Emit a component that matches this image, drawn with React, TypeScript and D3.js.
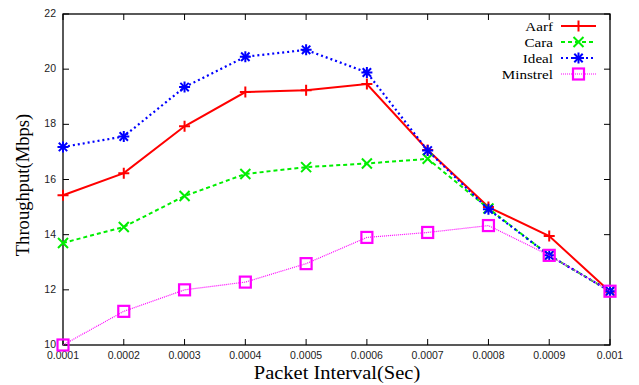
import React, { useRef, useEffect } from 'react';
import * as d3 from 'd3';

const intervals = [0.0001, 0.0002, 0.0003, 0.0004, 0.0005, 0.0006, 0.0007, 0.0008, 0.0009, 0.001];
const xTickLabels = ['0.0001', '0.0002', '0.0003', '0.0004', '0.0005', '0.0006', '0.0007', '0.0008', '0.0009', '0.001'];
const yTicks = [10, 12, 14, 16, 18, 20, 22];

const aarf = [15.43, 16.23, 17.93, 19.17, 19.24, 19.46, 17.07, 15.0, 13.95, 11.93];
const cara = [13.7, 14.28, 15.4, 16.2, 16.45, 16.58, 16.75, 14.95, 13.25, 11.95];
const ideal = [17.18, 17.56, 19.35, 20.45, 20.7, 19.88, 17.05, 14.92, 13.25, 11.95];
const minstrel = [10.0, 11.22, 12.0, 12.28, 12.95, 13.9, 14.08, 14.33, 13.25, 11.95];

const series = [
  { name: 'Aarf', values: aarf, color: '#ff0000', dash: null, width: 2, marker: 'plus' },
  { name: 'Cara', values: cara, color: '#00ee00', dash: '4,3', width: 2, marker: 'cross' },
  { name: 'Ideal', values: ideal, color: '#0000ff', dash: '2,3', width: 2.2, marker: 'star' },
  { name: 'Minstrel', values: minstrel, color: '#ff00ff', dash: '1,1', width: 1.2, marker: 'square' },
];

const serif = 'Liberation Serif, Times New Roman, serif';
const sans = 'Liberation Sans, Arial, sans-serif';

const App = () => {
  const ref = useRef<SVGSVGElement>(null);

  useEffect(() => {
    const svg = d3.select(ref.current);
    svg.selectAll('*').remove();

    const left = 63, right = 610, top = 14, bottom = 345;
    const x = d3.scalePoint<number>().domain(intervals).range([left, right]);
    const y = d3.scaleLinear().domain([10, 22]).range([bottom, top]);

    const drawMarker = (g: any, kind: string, cx: number, cy: number, color: string) => {
      const s = 5.5;
      if (kind === 'plus' || kind === 'star') {
        g.append('path').attr('d', `M${cx - s},${cy}H${cx + s}M${cx},${cy - s}V${cy + s}`)
          .attr('stroke', color).attr('stroke-width', 2).attr('fill', 'none');
      }
      if (kind === 'cross' || kind === 'star') {
        const t = kind === 'star' ? 4.2 : 5;
        g.append('path').attr('d', `M${cx - t},${cy - t}L${cx + t},${cy + t}M${cx - t},${cy + t}L${cx + t},${cy - t}`)
          .attr('stroke', color).attr('stroke-width', 2).attr('fill', 'none');
      }
      if (kind === 'square') {
        g.append('rect').attr('x', cx - 5.5).attr('y', cy - 5.5).attr('width', 11).attr('height', 11)
          .attr('stroke', color).attr('stroke-width', 2.2).attr('fill', 'none');
      }
    };

    // frame
    svg.append('rect').attr('x', left).attr('y', top).attr('width', right - left).attr('height', bottom - top)
      .attr('fill', 'none').attr('stroke', '#000').attr('stroke-width', 1.3);

    // ticks, inward on all four sides
    const axes = svg.append('g').attr('stroke', '#000').attr('stroke-width', 1);
    intervals.forEach(v => {
      axes.append('line').attr('x1', x(v)).attr('x2', x(v)).attr('y1', bottom).attr('y2', bottom - 6);
      axes.append('line').attr('x1', x(v)).attr('x2', x(v)).attr('y1', top).attr('y2', top + 6);
    });
    yTicks.forEach(v => {
      axes.append('line').attr('x1', left).attr('x2', left + 6).attr('y1', y(v)).attr('y2', y(v));
      axes.append('line').attr('x1', right).attr('x2', right - 6).attr('y1', y(v)).attr('y2', y(v));
    });

    // tick labels
    svg.append('g').selectAll('text').data(intervals).join('text')
      .attr('x', d => x(d)!).attr('y', bottom + 14)
      .attr('text-anchor', 'middle').attr('font-family', sans)
      .attr('font-size', 10.5).attr('fill', '#222')
      .text((d, i) => xTickLabels[i]);
    svg.append('g').selectAll('text').data(yTicks).join('text')
      .attr('x', left - 7).attr('y', d => y(d) + 3)
      .attr('text-anchor', 'end').attr('font-family', sans)
      .attr('font-size', 10.5).attr('fill', '#222')
      .text(d => d);

    // axis titles (the original is a little stretched sideways)
    svg.append('text').attr('transform', 'translate(337,379) scale(1.1,1)').attr('text-anchor', 'middle')
      .attr('font-family', serif).attr('font-size', 18.6)
      .text('Packet Interval(Sec)');
    svg.append('text').attr('transform', 'translate(29,185) rotate(-90)').attr('text-anchor', 'middle')
      .attr('font-family', serif).attr('font-size', 18.6)
      .text('Throughput(Mbps)');

    // lines and markers
    const line = d3.line<number>().x((d, i) => x(intervals[i])!).y(d => y(d));
    series.forEach(s => {
      const g = svg.append('g');
      g.append('path').datum(s.values).attr('d', line).attr('fill', 'none')
        .attr('stroke', s.color).attr('stroke-width', s.width)
        .attr('stroke-dasharray', s.dash);
      s.values.forEach((v, i) => drawMarker(g, s.marker, x(intervals[i])!, y(v), s.color));
    });

    // legend
    const legend = svg.append('g');
    series.forEach((s, i) => {
      const ly = 26 + i * 16;
      legend.append('text').attr('transform', `translate(553,${ly + 5}) scale(1.12,1)`).attr('text-anchor', 'end')
        .attr('font-family', serif).attr('font-size', 13.5)
        .text(s.name);
      legend.append('line').attr('x1', 561).attr('x2', 596).attr('y1', ly).attr('y2', ly)
        .attr('stroke', s.color).attr('stroke-width', s.width).attr('stroke-dasharray', s.dash);
      drawMarker(legend, s.marker, 578.5, ly, s.color);
    });
  }, []);

  return <svg ref={ref} width={639} height={385} style={{ display: 'block', position: 'absolute', left: 0, top: 0 }} />;
};

export default App;
